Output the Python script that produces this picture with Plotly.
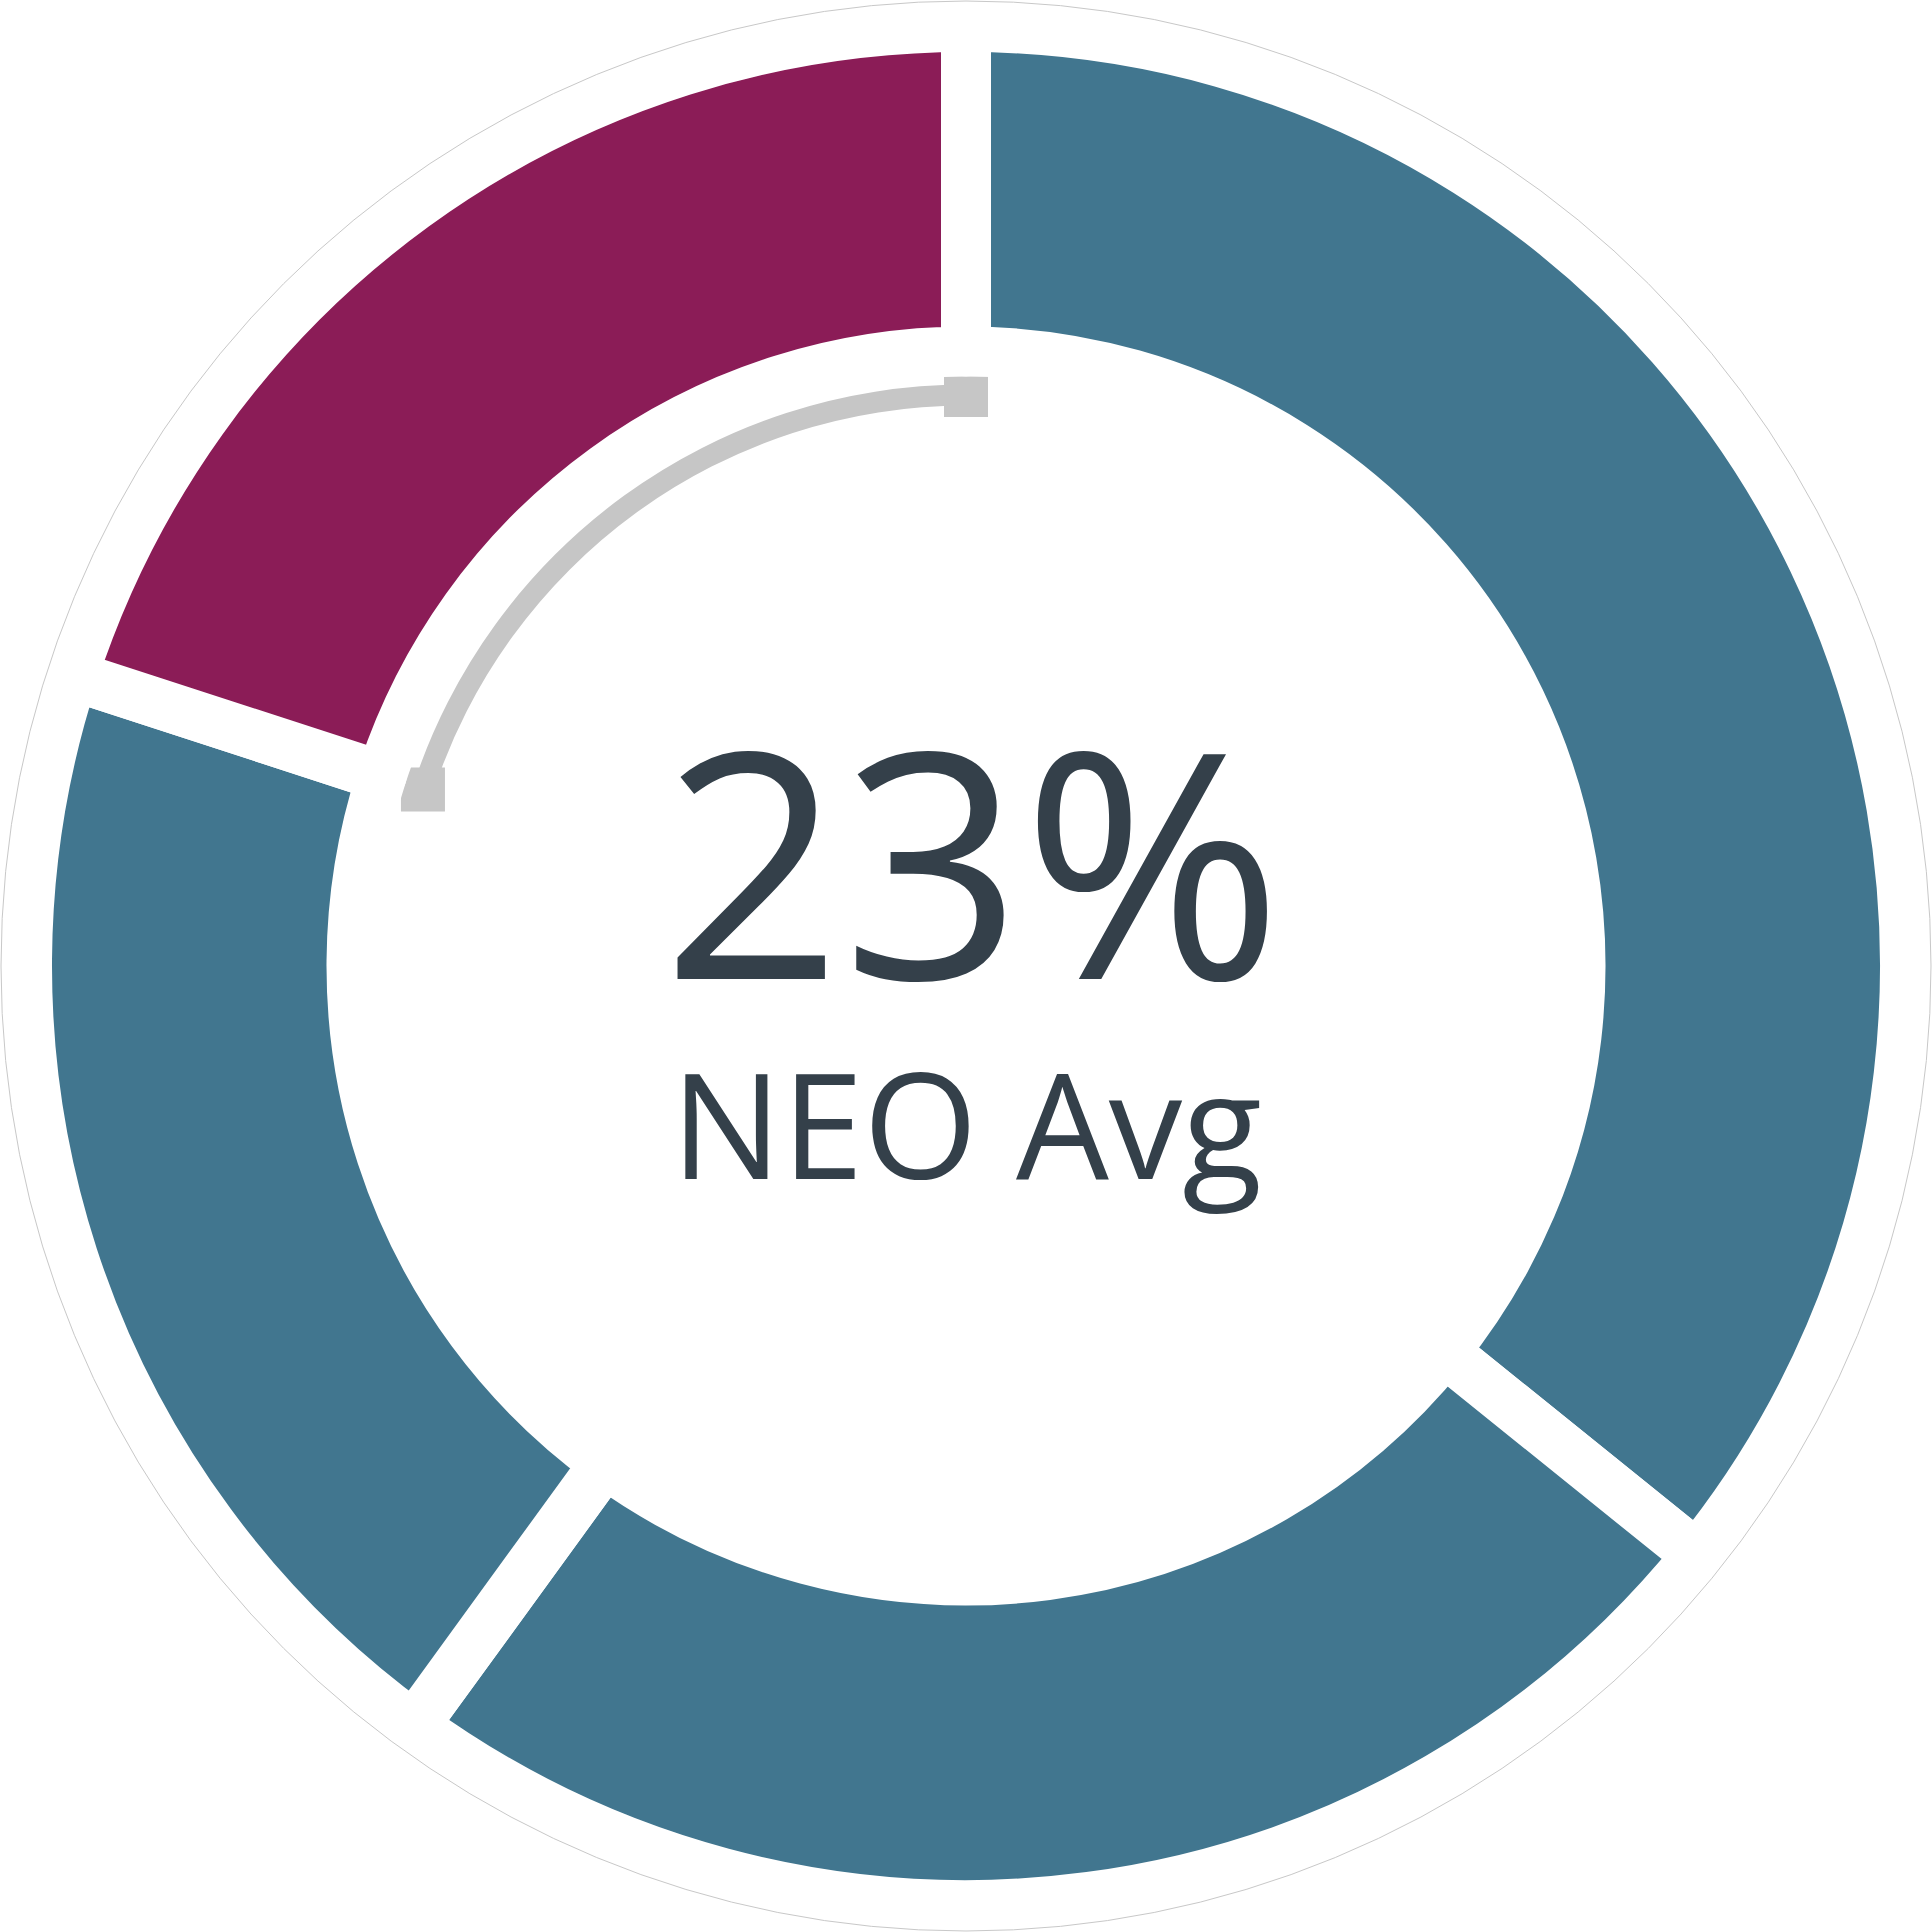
import plotly.graph_objects as go

# ---- data ----
segment_labels = ["Segment 1", "Segment 2", "Segment 3", "Segment 4"]
segment_values = [35.8, 24.2, 20.0, 20.0]
segment_colors = ["#41768F", "#41768F", "#41768F", "#8B1C57"]
avg_arc_share = 20          # gray arc share (% of circle)
headline_value = "23%"
headline_label = "NEO Avg"

W = 1932
C = W / 2.0

fig = go.Figure()

# main ring
R_out = 939.0
R_in = 614.5
fig.add_trace(go.Pie(
    labels=segment_labels,
    values=segment_values,
    marker=dict(colors=segment_colors, line=dict(color="white", width=50)),
    hole=R_in / R_out,
    sort=False,
    direction="clockwise",
    rotation=0,
    textinfo="none",
    hoverinfo="label+percent",
    showlegend=False,
    domain=dict(x=[0.5 - R_out / W, 0.5 + R_out / W], y=[0.5 - R_out / W, 0.5 + R_out / W]),
))

arc_deg = 360.0 * avg_arc_share / 100.0
arc_r = 571.0
arc_w = 21.0

# gray average arc
fig.add_trace(go.Barpolar(
    theta=[arc_deg / 2.0],
    width=[arc_deg],
    base=[arc_r - arc_w / 2.0],
    r=[arc_w],
    marker=dict(color="#C6C6C6", line=dict(width=0)),
    showlegend=False,
    hoverinfo="skip",
))
# square end caps
fig.add_trace(go.Scatterpolar(
    theta=[0, arc_deg],
    r=[arc_r, arc_r],
    mode="markers",
    marker=dict(symbol="square", size=44, color="#C6C6C6", line=dict(width=0)),
    showlegend=False,
    hoverinfo="skip",
))

fig.update_layout(
    width=W, height=W,
    margin=dict(l=0, r=0, t=0, b=0),
    paper_bgcolor="white",
    plot_bgcolor="white",
    polar=dict(
        domain=dict(x=[0, 1], y=[0, 1]),
        bgcolor="rgba(0,0,0,0)",
        radialaxis=dict(visible=False, range=[0, C], showgrid=False),
        angularaxis=dict(visible=False, rotation=90, direction="counterclockwise", showgrid=False),
    ),
    shapes=[dict(
        type="circle", xref="paper", yref="paper",
        x0=(C - 965) / W, x1=(C + 965) / W, y0=(C - 965) / W, y1=(C + 965) / W,
        line=dict(color="#C8C8C8", width=1), layer="above",
    )],
    annotations=[
        dict(text=headline_value, x=0.5035, y=1 - 857 / W, xref="paper", yref="paper",
             xanchor="center", yanchor="middle", showarrow=False,
             font=dict(family="Open Sans", size=315, color="#34404A")),
        dict(text=headline_label, x=0.5005, y=1 - 1122 / W, xref="paper", yref="paper",
             xanchor="center", yanchor="middle", showarrow=False,
             font=dict(family="Open Sans", size=147, color="#34404A")),
    ],
)

fig.write_html(
    "out.html",
    config={"displayModeBar": False},
    post_script="document.body.style.margin='0';document.body.style.overflow='hidden';",
)
